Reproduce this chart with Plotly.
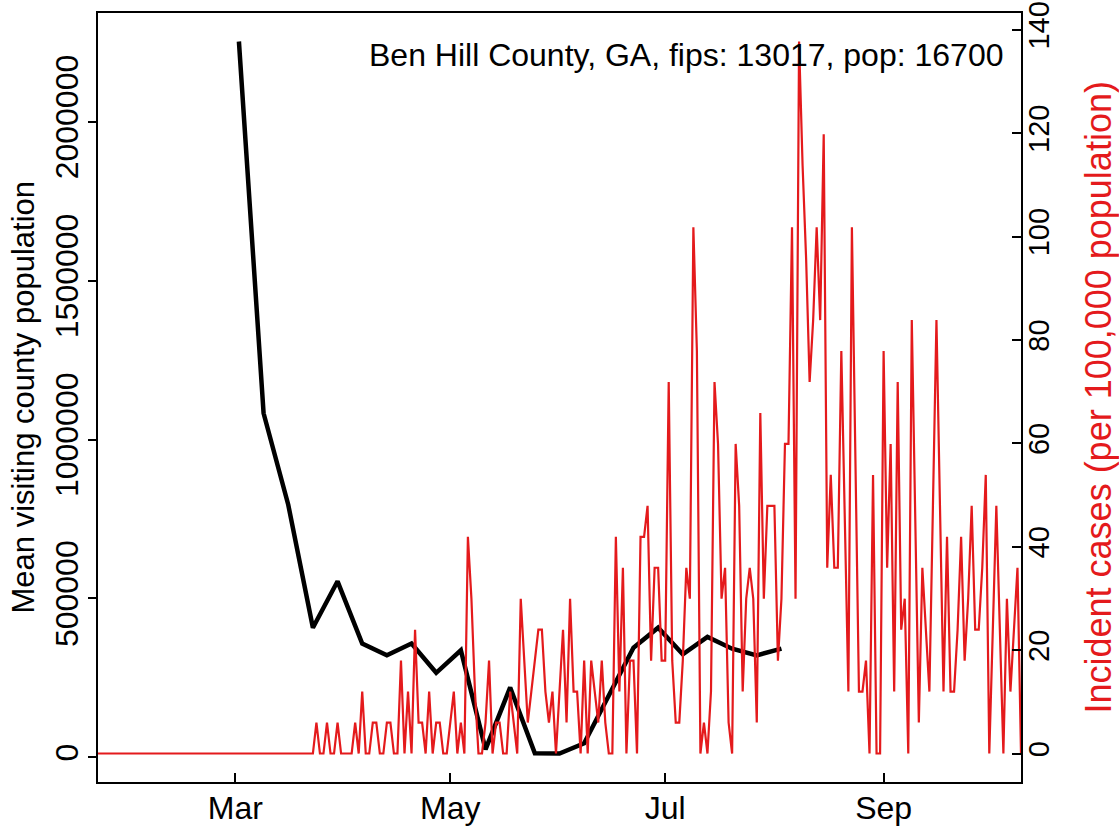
import pandas as pd
import plotly.graph_objects as go

# ---------------- data ----------------
title_text = "Ben Hill County, GA, fips: 13017, pop: 16700"

# weekly mean visiting county population (black line), weeks starting Mon 2020-03-02
visit_start = "2020-03-02"
visit_pop = [2253000, 1083000, 795000, 408000, 554000, 358000, 321000, 358000,
             266000, 337000, 25000, 220000, 13000, 12000, 44000, 195000,
             345000, 408000, 324000, 379000, 342000, 321000, 342000]

# daily incident cases per 100,000 population (red line), days starting 2020-01-22
inc_start = "2020-01-22"
incidence = [
    0, 0, 0, 0, 0, 0, 0, 0, 0, 0,
    0, 0, 0, 0, 0, 0, 0, 0, 0, 0,
    0, 0, 0, 0, 0, 0, 0, 0, 0, 0,
    0, 0, 0, 0, 0, 0, 0, 0, 0, 0,
    0, 0, 0, 0, 0, 0, 0, 0, 0, 0,
    0, 0, 0, 0, 0, 0, 0, 0, 0, 0,
    0, 0,
    5.99, 0, 0, 5.99, 0, 0, 5.99, 0, 0, 0,
    0, 5.99, 0, 11.98, 0, 0, 5.99, 5.99, 0, 0,
    5.99, 5.99, 0, 0, 17.96, 0, 11.98, 0, 23.95, 5.99,
    5.99, 0, 11.98, 0, 5.99, 5.99, 0, 0, 5.99, 11.98,
    0, 5.99, 0, 41.92, 29.94, 11.98, 0, 0, 5.99, 17.96,
    0, 5.99, 5.99, 0, 0, 11.98, 5.99, 0, 29.94, 17.96,
    5.99, 11.98, 17.96, 23.95, 23.95, 11.98, 5.99, 11.98, 0, 11.98,
    23.95, 5.99, 29.94, 11.98, 11.98, 0, 17.96, 0, 17.96, 11.98,
    5.99, 17.96, 5.99, 0, 0, 41.92, 11.98, 35.93, 0, 17.96,
    17.96, 0, 41.92, 41.92, 47.90, 17.96, 35.93, 35.93, 17.96, 17.96,
    71.86, 17.96, 5.99, 5.99, 17.96, 35.93, 29.94, 101.80, 77.84, 0,
    5.99, 0, 11.98, 71.86, 59.88, 29.94, 35.93, 5.99, 0, 59.88,
    47.90, 11.98, 29.94, 35.93, 29.94, 5.99, 65.87, 29.94, 47.90, 47.90,
    47.90, 17.96, 29.94, 59.88, 59.88, 101.80, 29.94, 137.72, 113.77, 95.81,
    71.86, 83.83, 101.80, 83.83, 119.76, 35.93, 53.89, 35.93, 35.93, 77.84,
    41.92, 11.98, 101.80, 53.89, 11.98, 11.98, 17.96, 0, 53.89, 0,
    0, 77.84, 35.93, 59.88, 11.98, 71.86, 23.95, 29.94, 0, 83.83,
    41.92, 5.99, 35.93, 23.95, 11.98, 47.90, 83.83, 47.90, 11.98, 41.92,
    11.98, 11.98, 23.95, 41.92, 17.96, 29.94, 47.90, 23.95, 23.95, 35.93,
    53.89, 0, 23.95, 47.90, 23.95, 0, 29.94, 11.98, 23.95, 35.93, 0,
]

x_tick_vals = ["2020-03-01", "2020-05-01", "2020-07-01", "2020-09-01"]
x_tick_text = ["Mar", "May", "Jul", "Sep"]
left_tick_vals = [0, 500000, 1000000, 1500000, 2000000]
left_tick_text = ["0", "500000", "1000000", "1500000", "2000000"]
right_tick_vals = [0, 20, 40, 60, 80, 100, 120, 140]

left_title = "Mean visiting county population"
right_title = "Incident cases (per 100,000 population)"

# ---------------- figure ----------------
visit_dates = pd.date_range(visit_start, periods=len(visit_pop), freq="7D")
inc_dates = pd.date_range(inc_start, periods=len(incidence), freq="D")

RED = "#E41A1C"
FONT = "Liberation Sans, Arial, Helvetica, sans-serif"


def r_range(vals):
    lo, hi = min(vals), max(vals)
    pad = 0.04 * (hi - lo)
    return [lo - pad, hi + pad]


fig = go.Figure()
fig.add_trace(go.Scatter(x=visit_dates, y=visit_pop, mode="lines",
                         line=dict(color="black", width=4.5), yaxis="y",
                         showlegend=False, hoverinfo="skip"))
fig.add_trace(go.Scatter(x=inc_dates, y=incidence, mode="lines",
                         line=dict(color=RED, width=2.2), yaxis="y2",
                         showlegend=False, hoverinfo="skip"))

# the page body margin is removed (post_script), so the figure sits at (0, 0)
W, H = 1119, 831
L, R, T, B = 98, 98, 13, 49
PW, PH = W - L - R, H - T - B


def px_x(page_x):
    return (page_x - L) / PW


def px_y(page_y):
    return (H - B - page_y) / PH


fig.update_layout(
    width=W, height=H,
    margin=dict(l=L, r=R, t=T, b=B, pad=0, autoexpand=False),
    plot_bgcolor="white", paper_bgcolor="white",
    font=dict(family=FONT, size=32, color="black"),
    hovermode=False,
    xaxis=dict(
        type="date", automargin=False,
        range=[inc_dates[0], inc_dates[-1]],
        tickvals=x_tick_vals, ticktext=x_tick_text,
        ticks="inside", ticklen=9, tickwidth=2, tickcolor="black",
        ticklabelstandoff=-3, ticklabeloverflow="allow",
        showline=True, linewidth=2, linecolor="black", mirror=True,
        showgrid=False, zeroline=False,
        tickfont=dict(size=32),
    ),
    yaxis=dict(
        automargin=False,
        range=r_range(visit_pop),
        tickvals=left_tick_vals, ticktext=left_tick_text,
        ticks="outside", ticklen=8, tickwidth=2, tickcolor="black",
        tickangle=-90, ticklabelstandoff=-3, ticklabeloverflow="allow",
        showline=True, linewidth=2, linecolor="black", mirror=True,
        showgrid=False, zeroline=False,
        tickfont=dict(size=32),
    ),
    yaxis2=dict(
        automargin=False,
        range=r_range(incidence),
        overlaying="y", side="right",
        tickvals=right_tick_vals,
        ticks="inside", ticklen=9, tickwidth=2, tickcolor="black",
        tickangle=-90, ticklabelstandoff=-2, ticklabeloverflow="allow",
        showline=False, showgrid=False, zeroline=False,
        tickfont=dict(size=29),
    ),
    annotations=[
        dict(text=title_text, xref="paper", yref="paper",
             x=px_x(1005), y=px_y(55),
             xanchor="right", yanchor="middle", showarrow=False,
             font=dict(size=32, color="black")),
        dict(text=left_title, xref="paper", yref="paper",
             x=px_x(23), y=0.5, textangle=-90,
             xanchor="center", yanchor="middle", showarrow=False,
             font=dict(size=31, color="black")),
        dict(text=right_title, xref="paper", yref="paper",
             x=px_x(1098), y=0.5, textangle=-90,
             xanchor="center", yanchor="middle", showarrow=False,
             font=dict(size=36, color=RED)),
    ],
)

fig.write_html(
    "out.html",
    config={"displayModeBar": False, "staticPlot": True},
    post_script="document.body.style.margin='0px';document.body.style.padding='0px';",
)
